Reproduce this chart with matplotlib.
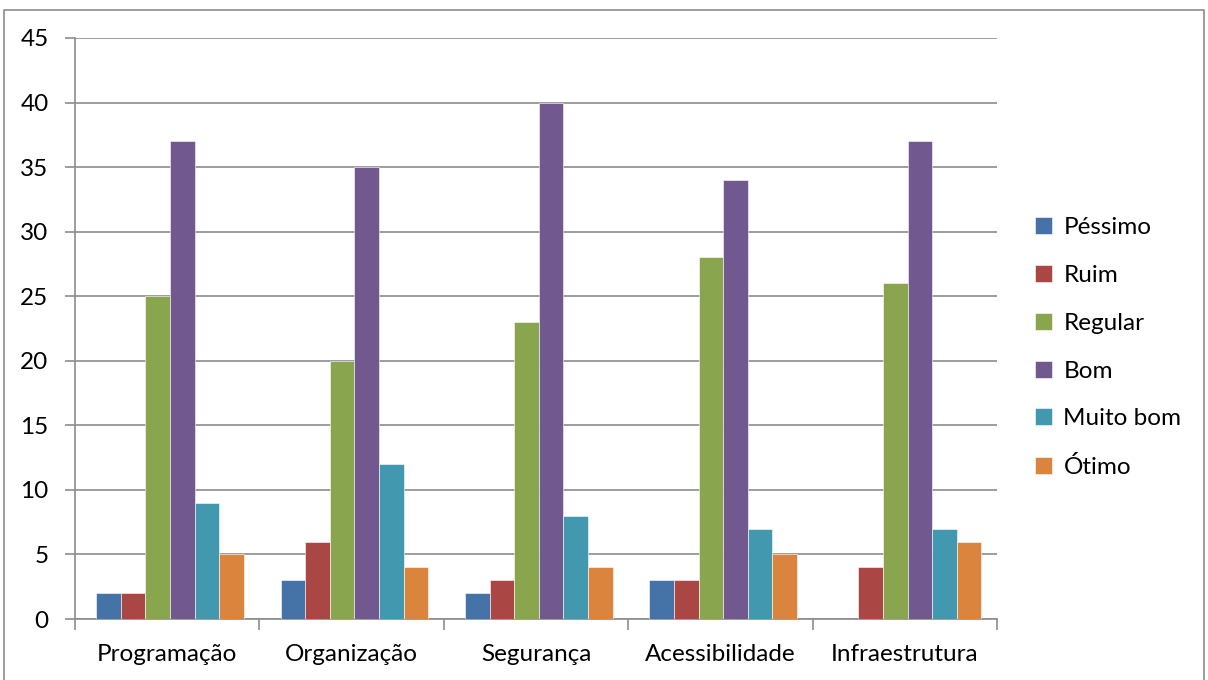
import matplotlib.pyplot as plt
from matplotlib.patches import Rectangle
import numpy as np

categories = ['Programação', 'Organização', 'Segurança', 'Acessibilidade', 'Infraestrutura']
series = ['Péssimo', 'Ruim', 'Regular', 'Bom', 'Muito bom', 'Ótimo']
pessimo = [2, 3, 2, 3, 0]
ruim = [2, 6, 3, 3, 4]
regular = [25, 20, 23, 28, 26]
bom = [37, 35, 40, 34, 37]
muito_bom = [9, 12, 8, 7, 7]
otimo = [5, 4, 4, 5, 6]
values = [pessimo, ruim, regular, bom, muito_bom, otimo]
colors = ['#4572A7', '#AA4643', '#89A54E', '#71588F', '#4198AF', '#DB843D']

plt.rcParams['font.family'] = ['Lato', 'DejaVu Sans']

fig = plt.figure(figsize=(12.08, 6.8), dpi=100)
ax = fig.add_axes([75 / 1208, 61 / 680, 922 / 1208, 581 / 680])

# outer chart frame
fig.patches.append(Rectangle((4 / 1208, -0.1), 1200 / 1208, 1.1 - 10 / 680,
                             transform=fig.transFigure, fill=False,
                             edgecolor='#8c8c8c', linewidth=1.2))

x = np.arange(len(categories))
w = 0.8 / len(series)
for i, (name, vals) in enumerate(zip(series, values)):
    ax.bar(x - 0.385 + w * (i + 0.5), vals, width=w, color=colors[i], label=name,
           edgecolor='white', linewidth=0.4, zorder=3)

ax.set_xlim(-0.5, len(categories) - 0.5)
ax.set_ylim(0, 45)
ax.set_yticks(range(0, 46, 5))
ax.yaxis.grid(True, color='#8c8c8c', linewidth=1.2, zorder=0)
ax.set_axisbelow(True)

ax.set_xticks(x)
ax.set_xticklabels(categories, fontsize=17.5)
ax.set_xticks(np.arange(-0.5, len(categories)), minor=True)
ax.tick_params(axis='x', which='major', length=0, pad=18)
ax.tick_params(axis='x', which='minor', length=8, color='#8c8c8c', width=1.2)
ax.tick_params(axis='y', length=7, color='#8c8c8c', width=1.2, labelsize=17.5, pad=12)

for s in ['top', 'right']:
    ax.spines[s].set_visible(False)
for s in ['left', 'bottom']:
    ax.spines[s].set_color('#8c8c8c')
    ax.spines[s].set_linewidth(1.2)

ax.legend(loc='center left', bbox_to_anchor=(1.018, 0.467), frameon=False,
          fontsize=17.5, handlelength=0.7, handleheight=0.7, handletextpad=0.45,
          labelspacing=1.1)

fig.savefig('out.png', dpi=100)
